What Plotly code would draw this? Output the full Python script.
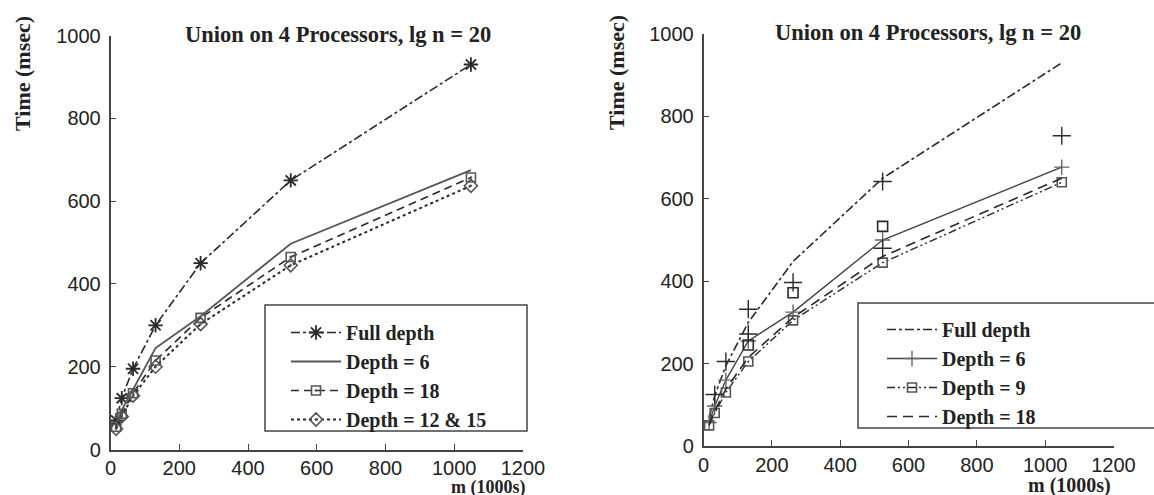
import plotly.graph_objects as go

# ---------------- data ----------------
m_vals = [16.384, 32.768, 65.536, 131.072, 262.144, 524.288, 1048.576]

# left panel
left_full = [70, 124, 195, 300, 450, 650, 930]
left_d6 = [60, 95, 145, 245, 322, 497, 675]
left_d18 = [55, 86, 136, 215, 318, 465, 657]
left_d12_15 = [50, 80, 130, 200, 303, 445, 637]

# right panel
right_full = [68, 122, 195, 300, 448, 650, 930]
right_d6 = [57, 97, 160, 255, 325, 500, 677]
right_d9 = [50, 80, 130, 205, 305, 445, 640]
right_d18 = [52, 85, 138, 215, 312, 460, 650]
# stray markers drawn in the right panel
right_plus_m = [32.768, 65.536, 131.072, 131.072, 262.144, 524.288, 524.288, 1048.576]
right_plus_t = [125, 205, 332, 272, 397, 642, 480, 753]
right_sq_m = [131.072, 262.144, 524.288]
right_sq_t = [245, 372, 533]

x_ticks = [0, 200, 400, 600, 800, 1000, 1200]
y_ticks = [0, 200, 400, 600, 800, 1000]

title_text = "Union on 4 Processors, lg n = 20"
y_title = "Time (msec)"
x_title = "m (1000s)"

# ---------------- figure ----------------
W, H = 1154, 495
SERIF = "Liberation Serif, Times New Roman, serif"
SANS = "Liberation Sans, Arial, sans-serif"
INK = "#2a2a2a"
TXT = "#222222"


def px(x):
    return x / W


def py(y):
    return 1 - y / H


fig = go.Figure()

# left traces
fig.add_trace(go.Scatter(x=m_vals, y=left_full, name="Full depth", mode="lines+markers",
                         line=dict(color=INK, width=1.6, dash="dashdot"),
                         marker=dict(symbol="asterisk-open", size=12, color=INK, line=dict(width=1.8, color=INK)),
                         xaxis="x", yaxis="y", legend="legend"))
fig.add_trace(go.Scatter(x=m_vals, y=left_d6, name="Depth = 6", mode="lines",
                         line=dict(color="#555555", width=1.8),
                         xaxis="x", yaxis="y", legend="legend"))
fig.add_trace(go.Scatter(x=m_vals, y=left_d18, name="Depth = 18", mode="lines+markers",
                         line=dict(color=INK, width=1.6, dash="8px,5px"),
                         marker=dict(symbol="square-open-dot", size=9, color="#555555", line=dict(width=1.6)),
                         xaxis="x", yaxis="y", legend="legend"))
fig.add_trace(go.Scatter(x=m_vals, y=left_d12_15, name="Depth = 12 & 15", mode="lines+markers",
                         line=dict(color=INK, width=2, dash="dot"),
                         marker=dict(symbol="diamond-open-dot", size=10, color="#555555", line=dict(width=1.6)),
                         xaxis="x", yaxis="y", legend="legend"))

# right traces
fig.add_trace(go.Scatter(x=m_vals, y=right_full, name="Full depth", mode="lines",
                         line=dict(color=INK, width=1.6, dash="dashdot"),
                         xaxis="x2", yaxis="y2", legend="legend2"))
fig.add_trace(go.Scatter(x=m_vals, y=right_d6, name="Depth = 6", mode="lines+markers",
                         line=dict(color="#444444", width=1.4),
                         marker=dict(symbol="cross-thin-open", size=11, color="#666666", line=dict(width=1.4, color="#666666")),
                         xaxis="x2", yaxis="y2", legend="legend2"))
fig.add_trace(go.Scatter(x=m_vals, y=right_d9, name="Depth = 9", mode="lines+markers",
                         line=dict(color=INK, width=1.4, dash="8px,3px,2px,3px,2px,3px"),
                         marker=dict(symbol="square-open", size=9, color="#555555", line=dict(width=1.6)),
                         xaxis="x2", yaxis="y2", legend="legend2"))
fig.add_trace(go.Scatter(x=m_vals, y=right_d18, name="Depth = 18", mode="lines",
                         line=dict(color=INK, width=1.6, dash="10px,6px"),
                         xaxis="x2", yaxis="y2", legend="legend2"))
fig.add_trace(go.Scatter(x=right_plus_m, y=right_plus_t, name="Depth = 6 (extra)", mode="markers",
                         marker=dict(symbol="cross-thin-open", size=13, color=INK, line=dict(width=1.4, color=INK)),
                         xaxis="x2", yaxis="y2", showlegend=False))
fig.add_trace(go.Scatter(x=right_sq_m, y=right_sq_t, name="Depth = 9 (extra)", mode="markers",
                         marker=dict(symbol="square-open", size=10, color=INK, line=dict(width=1.6)),
                         xaxis="x2", yaxis="y2", showlegend=False))

axis_common = dict(
    showline=True, linecolor="#444444", linewidth=1.5,
    ticks="inside", ticklen=6, tickwidth=1.2, tickcolor="#444444",
    showgrid=False, zeroline=False,
    tickfont=dict(family=SANS, size=20, color=TXT),
)

legend_font = dict(family=SERIF, size=20, color=TXT, weight="bold")


def ann(text, x, y, size, angle=0, xanchor="center"):
    return dict(text=text, xref="paper", yref="paper", x=px(x), y=py(y),
                xanchor=xanchor, yanchor="middle", textangle=angle, showarrow=False,
                font=dict(family=SERIF, size=size, color=TXT, weight="bold"))


fig.update_layout(
    width=W, height=H,
    margin=dict(l=0, r=0, t=0, b=0, autoexpand=False),
    paper_bgcolor="white", plot_bgcolor="white",
    showlegend=True,
    xaxis=dict(domain=[px(110.5), px(523)], range=[0, 1200], tickvals=x_ticks,
               anchor="y", **axis_common),
    yaxis=dict(domain=[py(449.5), py(35.5)], range=[0, 1000], tickvals=y_ticks,
               anchor="x", ticklabelstandoff=4, **axis_common),
    xaxis2=dict(domain=[px(703.5), px(1113.5)], range=[0, 1200], tickvals=x_ticks,
                anchor="y2", **axis_common),
    yaxis2=dict(domain=[py(446), py(34)], range=[0, 1000], tickvals=y_ticks,
                anchor="x2", ticklabelstandoff=4, **axis_common),
    legend=dict(x=px(286), y=py(313), xanchor="left", yanchor="top",
                bgcolor="rgba(0,0,0,0)", borderwidth=0, font=legend_font,
                itemwidth=50),
    legend2=dict(x=px(882), y=py(310), xanchor="left", yanchor="top",
                 bgcolor="rgba(0,0,0,0)", borderwidth=0, font=legend_font,
                 itemwidth=50),
    shapes=[
        dict(type="rect", xref="paper", yref="paper",
             x0=px(265), x1=px(527), y0=py(431), y1=py(305),
             line=dict(color="#444444", width=1.5), layer="below"),
        dict(type="rect", xref="paper", yref="paper",
             x0=px(858), x1=px(1180), y0=py(428), y1=py(303),
             line=dict(color="#444444", width=1.5), layer="below"),
    ],
    annotations=[
        ann(title_text, 338, 34, 22.5),
        ann(title_text, 928, 33, 22.5),
        ann(y_title, 23, 74, 22, angle=-90),
        ann(y_title, 616, 73, 22, angle=-90),
        ann(x_title, 528, 487.5, 18, xanchor="right"),
        ann(x_title, 1113, 485, 20, xanchor="right"),
    ],
)

fig.write_html("out.html", config={"displayModeBar": False},
               post_script="document.body.style.margin='0px';")
